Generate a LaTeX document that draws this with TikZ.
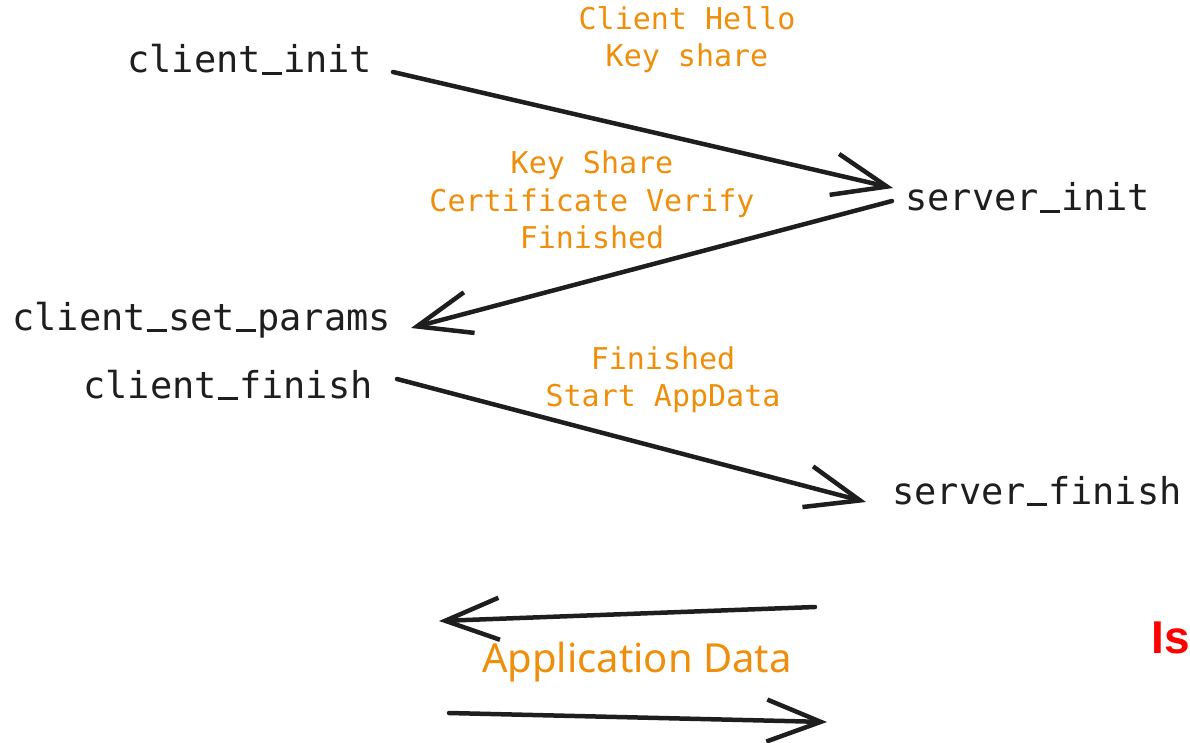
\documentclass[tikz,border=0pt]{standalone}
\usepackage{fontspec}
\setmonofont{DejaVu Sans Mono}
\newfontfamily\handfont{Noto Sans}
\newfontfamily\boldsans{Liberation Sans}
\usetikzlibrary{arrows.meta}
\definecolor{ink}{HTML}{1E1E1E}
\definecolor{msgorange}{HTML}{EE8E0A}
\definecolor{alertred}{HTML}{FF0000}
% underscore drawn as a rule, one monospace cell wide
\newcommand\us{\makebox[0.602em][c]{\rule[-0.06em]{0.56em}{0.075em}}}
\tikzset{
  state/.style={inner sep=0pt, anchor=base west, text=ink,
    font=\ttfamily\fontsize{37}{44}\selectfont},
  msg/.style={inner sep=0pt, anchor=base, align=center, text=msgorange,
    font=\ttfamily\fontsize{30}{37}\selectfont},
  flow/.style={draw=ink, line width=4.5pt, line cap=round, line join=round,
    -{Straight Barb[length=54pt, width=42pt, line width=4.5pt]}},
}
\begin{document}
\begin{tikzpicture}[x=1pt, y=-1pt]
  \useasboundingbox (0,0) rectangle (1190,743);

  % protocol states
  \node[state] (cinit) at (127,73)  {client\us init};
  \node[state] (sinit) at (905,211) {server\us init};
  \node[state] (cset)  at (12,330)  {client\us set\us params};
  \node[state] (cfin)  at (83,398)  {client\us finish};
  \node[state] (sfin)  at (892,504) {server\us finish};

  % message labels (base anchor sits on the last line)
  \node[msg] (m1) at (687,67)  {Client Hello\\Key share};
  \node[msg] (m2) at (592,248) {Key Share\\Certificate Verify\\Finished};
  \node[msg] (m3) at (663,406) {Finished\\Start AppData};

  % arrow end points beside the states
  \coordinate (a1s) at (393,72);
  \coordinate (a1e) at (893,188);
  \coordinate (a2s) at (892,201);
  \coordinate (a2e) at (411,328);
  \coordinate (a3s) at (397,379);
  \coordinate (a3e) at (866,502);

  \draw[flow] (a1s) -- (a1e);
  \draw[flow] (a2s) -- (a2e);
  \draw[flow] (a3s) -- (a3e);

  % application data exchange
  \coordinate (d1s) at (815,607);
  \coordinate (d1e) at (439,621);
  \coordinate (d2s) at (449,713);
  \coordinate (d2e) at (827,722);
  \draw[flow] (d1s) -- (d1e);
  \draw[flow] (d2s) -- (d2e);
  \node[inner sep=0pt, text=msgorange, font=\handfont\fontsize{40}{44}\selectfont]
    (appdata) at (637,662) {Application Data};

  \node[inner sep=0pt, anchor=base west, text=alertred,
    font=\boldsans\bfseries\fontsize{46}{50}\selectfont] (note) at (1151,653) {Is};
\end{tikzpicture}
\end{document}
